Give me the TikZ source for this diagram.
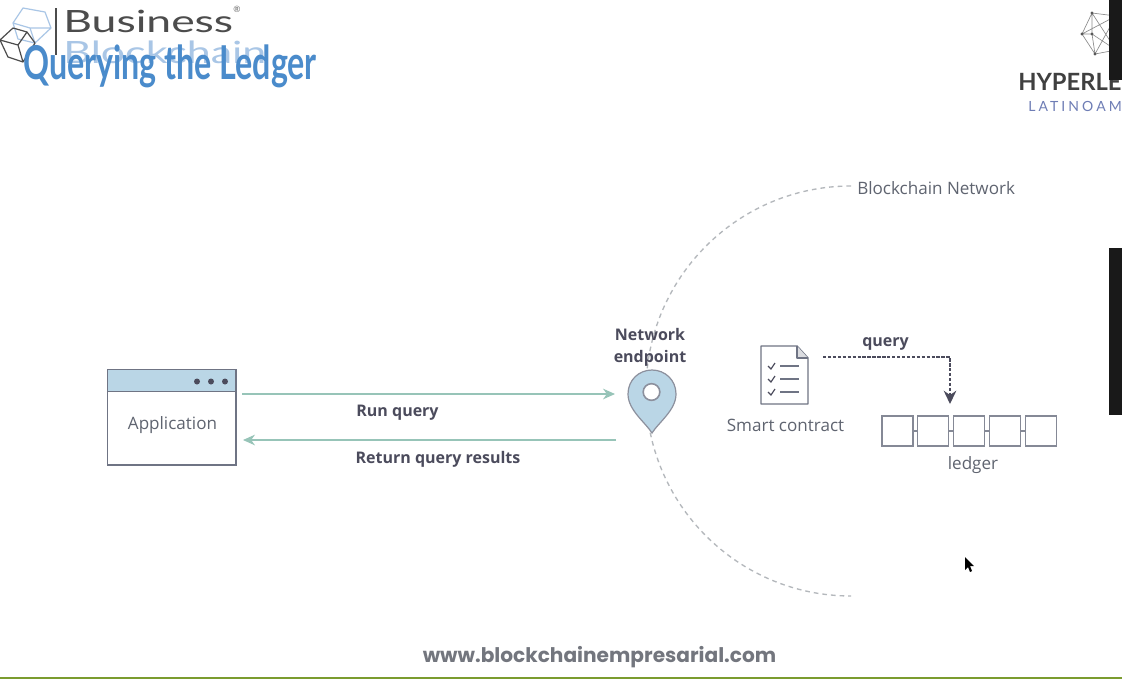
\documentclass[tikz,border=0pt]{standalone}
\usepackage{fontspec}
\setmainfont{Open Sans}
\newfontfamily\titlefont{Lato}
\newfontfamily\webfont{Poppins}
\usepackage{xcolor}
\usetikzlibrary{arrows.meta,positioning}
\definecolor{bbInk}{HTML}{4B4B5C}
\definecolor{bbSlate}{HTML}{5F6470}
\definecolor{bbFrame}{HTML}{6F7484}
\definecolor{bbSky}{HTML}{BAD6E6}
\definecolor{bbTeal}{HTML}{97C4B8}
\definecolor{bbTitle}{HTML}{4A8BCB}
\definecolor{bbLogo}{HTML}{A9C6E6}
\definecolor{bbDash}{HTML}{B4B8BC}
\definecolor{bbOlive}{HTML}{7B9C2F}
\definecolor{bbWeb}{HTML}{73767E}
\definecolor{bbNavy}{HTML}{6E7DB5}
\tikzset{
  plain/.style={inner sep=0pt, text=bbSlate, font=\fontsize{12.8}{15}\selectfont},
  strong/.style={inner sep=0pt, text=bbInk, align=center, font=\fontsize{12}{16.5}\selectfont\bfseries},
  window/.style={rectangle, draw=bbFrame, line width=1.3pt, fill=white, minimum width=96.5pt, minimum height=71.5pt, inner sep=0pt},
  winbar/.style={rectangle, draw=bbFrame, line width=1.1pt, fill=bbSky, minimum width=96.5pt, minimum height=16.5pt, inner sep=0pt},
  windot/.style={circle, fill=bbInk, minimum size=4.5pt, inner sep=0pt},
  ledgerbox/.style={rectangle, draw=bbFrame!85, line width=0.9pt, minimum width=23.25pt, minimum height=22.5pt, inner sep=0pt},
  reply/.style={-{Stealth[length=9pt,width=8pt]}, draw=bbTeal, line width=0.9pt},
  querypath/.style={-{Stealth[length=10pt,width=9.5pt]}, draw=bbInk, line width=1pt, dash pattern=on 2.5pt off 1.2pt},
  netarc/.style={draw=bbDash, line width=1pt, dash pattern=on 3.5pt off 3pt},
  blackbar/.style={rectangle, fill=black!90, minimum width=9.75pt, inner sep=0pt}
}
\begin{document}
\begin{tikzpicture}[x=0.75pt,y=-0.75pt]
\useasboundingbox[fill=white] (0,0) rectangle (1122,679);

\draw[bbLogo, line width=0.9pt, line join=round] (23,8) -- (45,12) -- (51,28) -- (35,43) -- (18,39) -- (13,23) -- cycle (13,23) -- (30,28) -- (51,28) (30,28) -- (35,43);
\draw[black!70, line width=0.9pt, line join=round] (13,28) -- (27,32) -- (35,43) -- (23,62) -- (8,57) -- (0,40) -- cycle (0,40) -- (18,45) -- (27,32) (18,45) -- (23,62);
\draw[black!70, line width=0.8pt] (56,8) -- (56,55);
\node[anchor=west, inner sep=0pt, text=black!70, xscale=1.45, transform shape, font=\titlefont\fontsize{23}{23}\selectfont] (business) at (63,21) {Business};
\node[anchor=west, inner sep=0pt, text=bbLogo, xscale=1.4, transform shape, font=\titlefont\fontsize{23}{23}\selectfont] (chainword) at (63,52) {Blockchain};
\node[anchor=west, inner sep=0pt, text=bbTitle, xscale=0.69, transform shape, font=\titlefont\fontsize{35}{35}\selectfont\bfseries] (title) at (23,66) {Querying the Ledger};
\node[inner sep=0pt, text=black!60, font=\titlefont\fontsize{6.5}{6.5}\selectfont] (regmark) at (237,9) {®};

\draw[black!45, line width=0.5pt] (1092,13) -- (1082,34) -- (1095,54) -- (1116,50) -- (1116,16) -- cycle (1092,13) -- (1092,34) -- (1095,54) (1082,34) -- (1092,34) -- (1116,50) (1092,13) -- (1116,50) (1082,34) -- (1116,16) (1095,54) -- (1116,16);
\foreach \dx/\dy in {1092/13,1082/34,1092/34,1095/54} \fill[black!65] (\dx,\dy) circle (1.3pt);
\node[anchor=west, inner sep=0pt, text=black!75, font=\titlefont\fontsize{17.8}{17.8}\selectfont\bfseries] (hyper) at (1018,82) {HYPERLE};
\node[anchor=west, inner sep=0pt, text=bbNavy, font=\titlefont\fontsize{10.5}{10.5}\selectfont\addfontfeatures{LetterSpace=22}] (latino) at (1028,106.5) {LATINOAM};
\node[blackbar, anchor=north west, minimum height=60pt] (topbar) at (1109,0) {};
\node[blackbar, anchor=north west, minimum height=125pt] (sidebar) at (1109,248) {};

\node[window, anchor=north west] (app) at (106.5,369) {};
\node[winbar, anchor=north] (appbar) at (app.north) {};
\node[windot] (dot3) at (225,381.5) {};
\node[windot] (dot2) at (211,381.5) {};
\node[windot] (dot1) at (197,381.5) {};
\node[plain] (applabel) at (172.5,425.5) {Application};

\draw[netarc] (851,186) arc[start angle=270, end angle=90, radius=205];
\node[plain, anchor=west] (network) at (857,188.5) {Blockchain Network};

\draw[fill=bbSky, draw=bbFrame!80, line width=0.9pt] (652,433) .. controls (645,422) and (628,410) .. (628,394) .. controls (628,380) and (639,370) .. (652,370) .. controls (665,370) and (676,380) .. (676,394) .. controls (676,410) and (659,422) .. (652,433) -- cycle;
\node[circle, fill=white, draw=bbFrame!80, line width=1.2pt, minimum size=12.5pt, inner sep=0pt] (pinhole) at (651.5,392) {};
\node[strong] (endpoint) at (650,347) {Network\\endpoint};

\coordinate (runstart) at (242,394);
\coordinate (runend) at (615,394);
\coordinate (backstart) at (616,440);
\coordinate (backend) at (243,440);
\draw[reply] (runstart) -- (runend);
\draw[reply] (backstart) -- (backend);
\node[strong] (runlabel) at (397.5,413) {Run query};
\node[strong] (backlabel) at (438,459.5) {Return query results};

\draw[draw=bbFrame, line width=1.1pt, line join=round, fill=white] (761,346) -- (797,346) -- (808,358) -- (808,404) -- (761,404) -- cycle;
\draw[draw=bbFrame, line width=0.9pt, line join=round, fill=bbFrame!25] (797,346) -- (797,358) -- (808,358);
\foreach \ypos in {366,379,392} {
  \draw[bbInk, line width=0.9pt] (768,\ypos) -- (771,\ypos+3) -- (775,\ypos-3);
  \draw[bbFrame, line width=1pt] (780,\ypos) -- (799,\ypos);
}
\node[plain] (contract) at (785.5,425.5) {Smart contract};

\coordinate (querystart) at (823,357);
\coordinate (queryend) at (950,404);
\draw[querypath] (querystart) -| (queryend);
\node[strong] (querylabel) at (885.5,343.5) {query};

\node[ledgerbox] (led1) at (897.5,431) {};
\foreach \i [count=\j from 1] in {2,...,5} {
  \node[ledgerbox, right=2.75pt of led\j] (led\i) {};
  \draw[bbFrame!85, line width=0.9pt] (led\j) -- (led\i);
}
\node[plain] (ledgerlabel) at (973,465) {ledger};

\node[inner sep=0pt, text=bbWeb, font=\webfont\fontsize{15.1}{15}\selectfont\bfseries] (website) at (599.5,657) {www.blockchainempresarial.com};
\draw[bbOlive, line width=1.5pt] (0,678) -- (1122,678);

\fill[black] (965,557) -- (965,570) -- (968,567) -- (970,572) -- (972,571) -- (970,566) -- (974,566) -- cycle;
\end{tikzpicture}
\end{document}
